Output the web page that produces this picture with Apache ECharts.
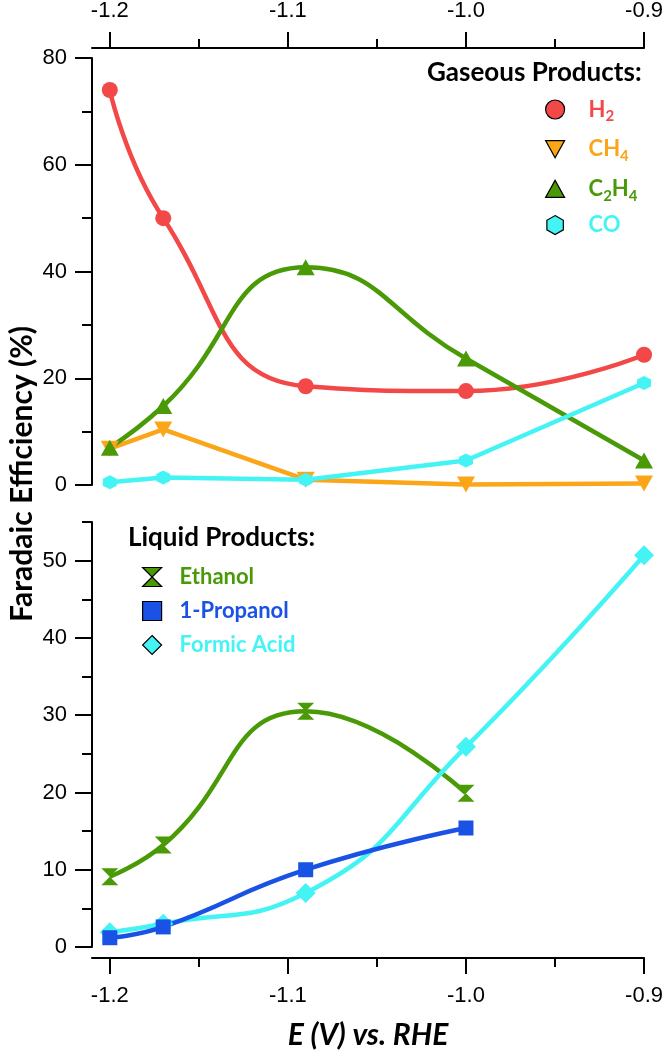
<!DOCTYPE html>
<html>
<head>
<meta charset="utf-8">
<script src="https://cdn.jsdelivr.net/npm/echarts@6/dist/echarts.min.js"></script>
<style>
  html, body { margin: 0; padding: 0; background: #fff; }
  #chart { width: 666px; height: 1054px; }
</style>
</head>
<body>
<div id="chart"></div>
<script>
// ---- data ----
const potentials = [-1.2, -1.17, -1.09, -1.0, -0.9];
const h2      = [74.0, 50.0, 18.5, 17.6, 24.4];
const ch4     = [6.8, 10.4, 1.0, 0.1, 0.3];
const c2h4    = [7.0, 14.8, 40.8, 23.7, 4.6];
const co      = [0.5, 1.4, 1.0, 4.6, 19.1];
const ethanol = [9.1, 13.2, 30.5, 19.9];
const propanol = [1.2, 2.6, 10.0, 15.4];
const formic  = [1.9, 3.0, 7.0, 25.9, 50.7];

const xTicks = [-1.2, -1.1, -1.0, -0.9];
const xMinorTicks = [-1.15, -1.05, -0.95];
const yBottomTicks = [0, 10, 20, 30, 40, 50];
const yBottomMinor = [5, 15, 25, 35, 45, 55];

// ---- styles ----
const RED = '#F24848', ORANGE = '#FBA618', GREEN = '#4A9A08', CYAN = '#44F4F4', BLUE = '#1A52E6';
const TICK_FONT = 'Liberation Sans';
const TITLE_FONT = 'Lato';
const LW = 4.5;

const HEX = 'path://M5,0 L9.33,2.5 L9.33,7.5 L5,10 L0.67,7.5 L0.67,2.5 Z';
const INVTRI = 'path://M0,0 L10,0 L5,9 Z';
const TRI = 'path://M5,0 L10,9 L0,9 Z';
const HOURGLASS = 'path://M0,0 L10,0 L5,5 L10,10 L0,10 L5,5 Z';

const pair = (ys) => ys.map((y, i) => [potentials[i], y]);

const chart = echarts.init(document.getElementById('chart'), null, { renderer: 'canvas' });

function mainX(grid, pos, offset, margin) {
  return {
    type: 'value', gridIndex: grid, position: pos, offset: offset,
    min: -1.21, max: -0.9,
    axisLine: { show: true, onZero: false, lineStyle: { color: '#000', width: 2 } },
    axisTick: { show: true, customValues: xTicks, length: 16, lineStyle: { color: '#000', width: 2 } },
    axisLabel: { show: true, customValues: xTicks, margin: margin, color: '#000', fontSize: 22, fontFamily: TICK_FONT,
                 formatter: v => v.toFixed(1) },
    splitLine: { show: false }
  };
}
function minorX(grid, pos, offset) {
  return {
    type: 'value', gridIndex: grid, position: pos, offset: offset,
    min: -1.21, max: -0.9,
    axisLine: { show: false, onZero: false },
    axisTick: { show: true, customValues: xMinorTicks, length: 9, lineStyle: { color: '#000', width: 2 } },
    axisLabel: { show: false },
    splitLine: { show: false }
  };
}

const legendText = (spacer) => ({
  fontFamily: TITLE_FONT,
  rich: {
    p: { width: spacer, fontSize: 22, lineHeight: 26 },
    n: { fontSize: 22, fontWeight: 'bold', fontFamily: TITLE_FONT, lineHeight: 26 },
    s: { fontSize: 15, fontWeight: 'bold', fontFamily: TITLE_FONT, lineHeight: 12, padding: [14, 0, 0, 0] }
  }
});
const fmtName = (name) => '{p|}{n|' + name.replace(/(\d)/g, '}{s|$1}{n|') + '}';
const fmtPlain = (name) => '{p|}{n|' + name + '}';

const option = {
  animation: false,
  backgroundColor: '#fff',
  title: [
    { text: 'Gaseous Products:', left: 427, top: 60, padding: 0,
      textStyle: { fontFamily: TITLE_FONT, fontWeight: 'bold', fontSize: 26, color: '#000' } },
    { text: 'Liquid Products:', left: 128, top: 525, padding: 0,
      textStyle: { fontFamily: TITLE_FONT, fontWeight: 'bold', fontSize: 26, color: '#000' } }
  ],
  grid: [
    { left: 92, right: 19, top: 58, height: 427 },
    { left: 92, right: 19, top: 522, height: 425 }
  ],
  xAxis: [
    mainX(0, 'top', 10, 26),
    minorX(0, 'top', 10),
    Object.assign(mainX(1, 'bottom', 11, 27), {
      name: 'E (V) vs. RHE', nameLocation: 'middle', nameGap: 62,
      nameTextStyle: { fontFamily: TITLE_FONT, fontWeight: 'bold', fontStyle: 'italic', fontSize: 30, color: '#000' }
    }),
    minorX(1, 'bottom', 11)
  ],
  yAxis: [
    { type: 'value', gridIndex: 0, position: 'left', min: 0, max: 80, interval: 20,
      axisLine: { show: true, lineStyle: { color: '#000', width: 2 } },
      axisTick: { show: true, length: 17, lineStyle: { color: '#000', width: 2 } },
      minorTick: { show: true, splitNumber: 2, length: 10, lineStyle: { color: '#000', width: 2 } },
      axisLabel: { margin: 25, color: '#000', fontSize: 22, fontFamily: TICK_FONT },
      splitLine: { show: false } },
    { type: 'value', gridIndex: 1, position: 'left', min: 0, max: 55,
      axisLine: { show: true, lineStyle: { color: '#000', width: 2 } },
      axisTick: { show: true, customValues: yBottomTicks, length: 17, lineStyle: { color: '#000', width: 2 } },
      axisLabel: { customValues: yBottomTicks, margin: 25, color: '#000', fontSize: 22, fontFamily: TICK_FONT },
      splitLine: { show: false } },
    { type: 'value', gridIndex: 1, position: 'left', offset: 0, min: 0, max: 55,
      axisLine: { show: false },
      axisTick: { show: true, customValues: yBottomMinor, length: 10, lineStyle: { color: '#000', width: 2 } },
      axisLabel: { show: false },
      splitLine: { show: false } }
  ],
  legend: [
    { orient: 'vertical', left: 540, top: 90, itemWidth: 19, itemHeight: 19, itemGap: 10.7,
      selectedMode: false,
      itemStyle: { borderColor: '#000', borderWidth: 1.2 },
      formatter: fmtName, textStyle: legendText(19),
      data: [
        { name: 'H2', icon: 'circle', textStyle: { color: RED } },
        { name: 'CH4', icon: INVTRI, textStyle: { color: ORANGE } },
        { name: 'C2H4', icon: TRI, textStyle: { color: GREEN } },
        { name: 'CO', icon: HEX, textStyle: { color: CYAN } }
      ] },
    { orient: 'vertical', left: 137, top: 561, itemWidth: 19, itemHeight: 19, itemGap: 12,
      selectedMode: false,
      itemStyle: { borderColor: '#000', borderWidth: 1.2 },
      formatter: fmtPlain, textStyle: legendText(13),
      data: [
        { name: 'Ethanol', icon: HOURGLASS, textStyle: { color: GREEN } },
        { name: '1-Propanol', icon: 'rect', textStyle: { color: BLUE } },
        { name: 'Formic Acid', icon: 'diamond', textStyle: { color: CYAN } }
      ] }
  ],
  series: [
    { name: 'H2', type: 'line', xAxisIndex: 0, yAxisIndex: 0, smooth: true, data: pair(h2),
      symbol: 'circle', symbolSize: 16,
      itemStyle: { color: RED }, lineStyle: { color: RED, width: LW } },
    { name: 'CH4', type: 'line', xAxisIndex: 0, yAxisIndex: 0, smooth: false, data: pair(ch4),
      symbol: INVTRI, symbolSize: [18, 16],
      itemStyle: { color: ORANGE }, lineStyle: { color: ORANGE, width: LW } },
    { name: 'C2H4', type: 'line', xAxisIndex: 0, yAxisIndex: 0, smooth: true, data: pair(c2h4),
      symbol: TRI, symbolSize: [18, 16],
      itemStyle: { color: GREEN }, lineStyle: { color: GREEN, width: LW } },
    { name: 'CO', type: 'line', xAxisIndex: 0, yAxisIndex: 0, smooth: false, data: pair(co),
      symbol: HEX, symbolSize: 14,
      itemStyle: { color: CYAN }, lineStyle: { color: CYAN, width: LW } },
    { name: 'Ethanol', type: 'line', xAxisIndex: 2, yAxisIndex: 1, smooth: true, data: pair(ethanol),
      symbol: HOURGLASS, symbolSize: 17,
      itemStyle: { color: GREEN }, lineStyle: { color: GREEN, width: LW } },
    { name: 'Formic Acid', type: 'line', xAxisIndex: 2, yAxisIndex: 1, smooth: true, data: pair(formic),
      symbol: 'diamond', symbolSize: 20,
      itemStyle: { color: CYAN }, lineStyle: { color: CYAN, width: LW } },
    { name: '1-Propanol', type: 'line', xAxisIndex: 2, yAxisIndex: 1, smooth: true, data: pair(propanol),
      symbol: 'rect', symbolSize: 15,
      itemStyle: { color: BLUE }, lineStyle: { color: BLUE, width: LW } }
  ],
  graphic: [
    { type: 'text', x: 22, y: 474, rotation: Math.PI / 2,
      style: { text: 'Faradaic Efficiency (%)', textAlign: 'center', textVerticalAlign: 'middle',
               fontFamily: TITLE_FONT, fontWeight: 'bold', fontSize: 30, fill: '#000' } }
  ]
};
chart.setOption(option);
</script>
</body>
</html>
